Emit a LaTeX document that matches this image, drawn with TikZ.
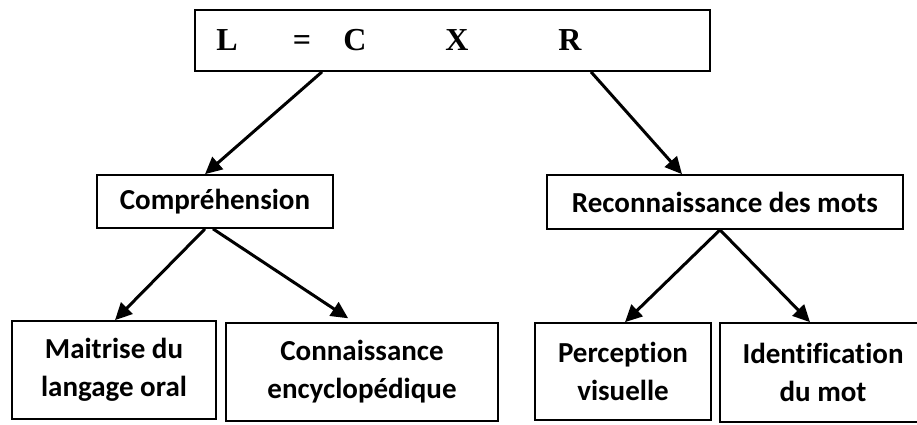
\documentclass[tikz,border=0pt]{standalone}
\usepackage{fontspec}
\setmainfont{Carlito}[Ligatures=NoCommon]
\newfontfamily\timesfont{Liberation Serif}
\usetikzlibrary{arrows.meta}
\begin{document}
\begin{tikzpicture}[x=1pt,y=-1pt,
  box/.style={draw,line width=1.7pt,inner sep=0pt,align=center,
    font=\bfseries\fontsize{29}{38}\selectfont},
  arr/.style={line width=3pt,-{Triangle[length=17pt,width=16pt]}}]
\useasboundingbox (0,0) rectangle (917,424);
\node[box,minimum width=515pt,minimum height=61pt,font=\timesfont\bfseries\fontsize{32}{36}\selectfont] (top) at (452.5,40.5)
  {\hbox to 515pt{\hskip32pt\makebox[0pt]{L}\hskip75pt\makebox[0pt]{=}\hskip53pt\makebox[0pt]{C}\hskip102pt\makebox[0pt]{X}\hskip113pt\makebox[0pt]{R}\hfil}};
\node[box,minimum width=236pt,minimum height=53pt] (comp) at (215,201.5) {\raisebox{-3pt}{Compréhension}};
\node[box,minimum width=356pt,minimum height=54pt] (reco) at (725,202) {\raisebox{-3pt}{Reconnaissance des mots}};
\node[box,minimum width=204pt,minimum height=98pt] (mait) at (114,370) {Maitrise du\\langage oral};
\node[box,minimum width=272pt,minimum height=98pt] (conn) at (362,372) {Connaissance\\encyclopédique};
\node[box,minimum width=176pt,minimum height=97pt] (perc) at (623,371.5) {Perception\\visuelle};
\node[box,minimum width=206pt,minimum height=99pt] (iden) at (823,372.5) {Identification\\du mot};
\draw[arr] ([xshift=-130.5pt]top.south) -- ([xshift=-10pt]comp.north);
\draw[arr] ([xshift=138.5pt]top.south) -- ([xshift=-43pt]reco.north);
\draw[arr] ([xshift=-10pt]comp.south) -- ([xshift=1pt]mait.north);
\draw[arr,shorten >=7pt] ([xshift=-2pt]comp.south) -- ([xshift=-8pt]conn.north);
\draw[arr] ([xshift=-5pt]reco.south) -- ([xshift=2pt]perc.north);
\draw[arr] ([xshift=-5pt]reco.south) -- ([xshift=-13pt]iden.north);
\end{tikzpicture}
\end{document}
